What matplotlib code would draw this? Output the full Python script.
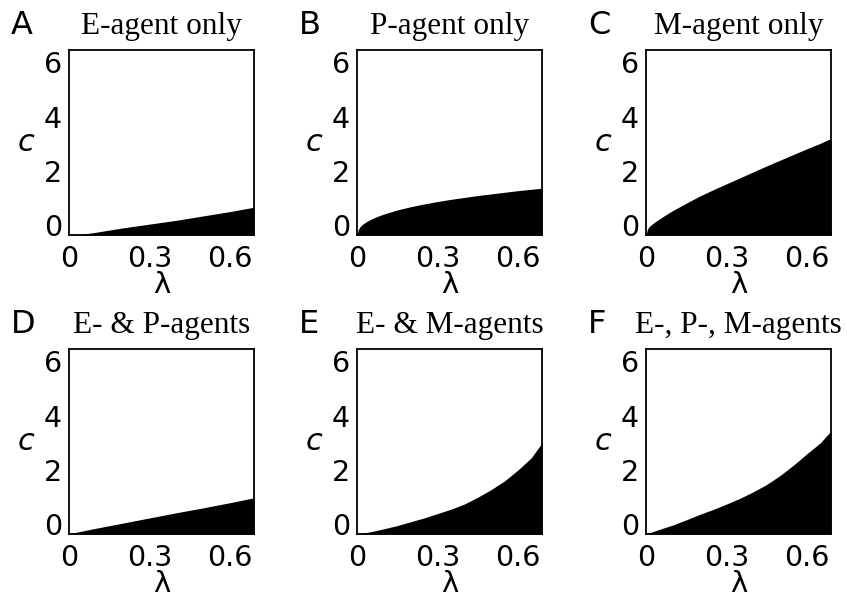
import matplotlib
matplotlib.use('Agg')
import matplotlib.pyplot as plt

# values (boundary c(λ) of the black region)
letters = ['A', 'B', 'C', 'D', 'E', 'F']
titles = ['E-agent only', 'P-agent only', 'M-agent only',
          'E- & P-agents', 'E- & M-agents', 'E-, P-, M-agents']

lam_a = [0, 0.05, 0.1, 0.15, 0.2, 0.25, 0.3, 0.35, 0.4, 0.45, 0.5, 0.55, 0.6, 0.65, 0.69]
c_a = [-0.35, -0.32, -0.25, -0.17, -0.09, -0.02, 0.05, 0.12, 0.19, 0.27, 0.35, 0.43, 0.51, 0.6, 0.67]

lam_b = [0, 0.005, 0.01, 0.02, 0.035, 0.05, 0.075, 0.1, 0.15, 0.2, 0.25, 0.3, 0.35,
         0.4, 0.45, 0.5, 0.55, 0.6, 0.65, 0.69]
c_b = [-0.35, -0.15, -0.06, 0.04, 0.14, 0.22, 0.33, 0.42, 0.57, 0.69, 0.79, 0.88, 0.96,
       1.03, 1.1, 1.16, 1.22, 1.28, 1.33, 1.37]

lam_c = [0, 0.005, 0.01, 0.02, 0.035, 0.05, 0.075, 0.1, 0.15, 0.2, 0.25, 0.3, 0.35,
         0.4, 0.45, 0.5, 0.55, 0.6, 0.65, 0.69]
c_c = [-0.35, -0.15, -0.06, 0.03, 0.14, 0.24, 0.4, 0.55, 0.82, 1.08, 1.31, 1.53, 1.75,
       1.97, 2.19, 2.4, 2.61, 2.82, 3.02, 3.2]

lam_d = [0, 0.1, 0.2, 0.3, 0.4, 0.5, 0.6, 0.69]
c_d = [-0.34, -0.14, 0.05, 0.24, 0.43, 0.61, 0.8, 0.98]

lam_e = [0, 0.05, 0.1, 0.15, 0.2, 0.25, 0.3, 0.35, 0.4, 0.45, 0.5, 0.55, 0.6, 0.65, 0.69]
c_e = [-0.35, -0.27, -0.16, -0.04, 0.1, 0.24, 0.4, 0.56, 0.75, 1.0, 1.28, 1.6, 2.0, 2.45, 3.0]

lam_f = [0, 0.05, 0.1, 0.15, 0.2, 0.25, 0.3, 0.35, 0.4, 0.45, 0.5, 0.55, 0.6, 0.65, 0.69]
c_f = [-0.35, -0.18, -0.02, 0.17, 0.37, 0.55, 0.75, 0.96, 1.2, 1.47, 1.8, 2.18, 2.6, 3.0, 3.44]

curves = [(lam_a, c_a), (lam_b, c_b), (lam_c, c_c),
          (lam_d, c_d), (lam_e, c_e), (lam_f, c_f)]

W, H = 847, 597
fig = plt.figure(figsize=(W / 100, H / 100), dpi=100)

lefts = [69, 357, 646]
tops = [50, 349]
size = 185

for i in range(6):
    row, col = divmod(i, 3)
    lx, ty = lefts[col], tops[row]
    ax = fig.add_axes([lx / W, 1 - (ty + size) / H, size / W, size / H])
    lam, c = curves[i]
    ax.fill_between(lam, -0.35, c, color='black', linewidth=0)
    ax.set_xlim(0, 0.69)
    ax.set_ylim(-0.35, 6.45)
    ax.set_xticks([0, 0.3, 0.6])
    ax.set_xticklabels(['0', '0.3', '0.6'])
    ax.set_yticks([0, 2, 4, 6])
    ax.tick_params(length=0, labelsize=20.5)
    ax.tick_params(axis='y', pad=5)
    ax.tick_params(axis='x', pad=7)
    for s in ax.spines.values():
        s.set_linewidth(1.3)
    ax.set_xlabel('λ', fontsize=21, labelpad=-1)
    ax.set_ylabel('c', fontsize=22, style='italic', rotation=0,
                  labelpad=13, va='center')
    fig.text((lx + size / 2) / W, 1 - (ty - 16) / H, titles[i],
             family='Liberation Serif', fontsize=22.5, ha='center', va='baseline')
    fig.text((lx - 58) / W, 1 - (ty - 16) / H, letters[i],
             fontsize=23, ha='left', va='baseline')

plt.savefig('out.png', dpi=100)
